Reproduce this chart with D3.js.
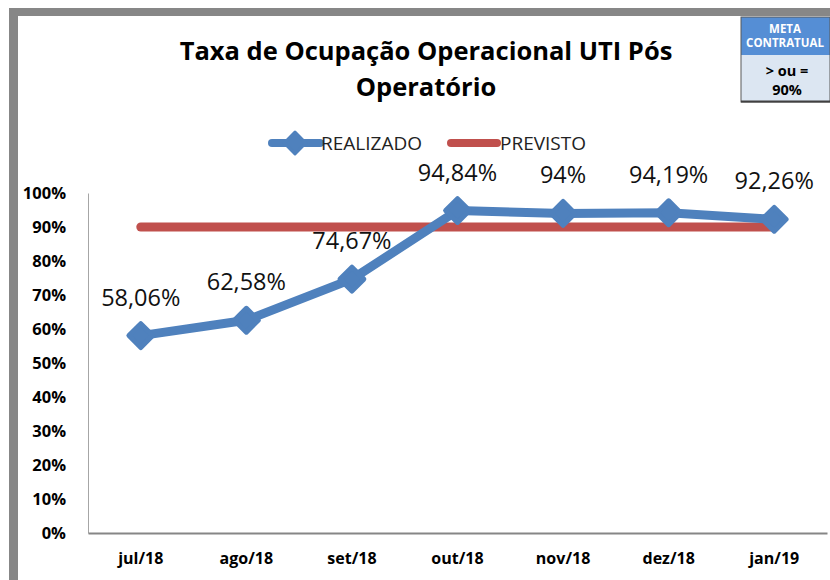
<!DOCTYPE html>
<html>
<head>
<meta charset="utf-8">
<script src="https://cdnjs.cloudflare.com/ajax/libs/d3/7.8.5/d3.min.js"></script>
<style>
  body { margin: 0; background: #fff; }
  svg { display: block; font-family: "Open Sans", "Liberation Sans", sans-serif; }
</style>
</head>
<body>
<div id="chart"></div>
<script>
var months = ['jul/18', 'ago/18', 'set/18', 'out/18', 'nov/18', 'dez/18', 'jan/19'];
var realizado = [58.06, 62.58, 74.67, 94.84, 94, 94.19, 92.26];
var previsto = [90, 90, 90, 90, 90, 90, 90];
var yTicks = [0, 10, 20, 30, 40, 50, 60, 70, 80, 90, 100];
var titleLines = ['Taxa de Ocupação Operacional UTI Pós', 'Operatório'];
var metaHead = ['META', 'CONTRATUAL'];
var metaBody = ['> ou =', '90%'];

var W = 830, H = 580;
var blue = '#4F81BD', red = '#C0504D';

var svg = d3.select('#chart').append('svg')
  .attr('width', W).attr('height', H);

// frame
svg.append('rect').attr('x', 9).attr('y', 8).attr('width', W - 9).attr('height', 8).attr('fill', '#878787');
svg.append('rect').attr('x', 9).attr('y', 8).attr('width', 9).attr('height', H - 8).attr('fill', '#878787');

var x = d3.scaleBand().domain(months).range([88, 827]);
var y = d3.scaleLinear().domain([0, 100]).range([533, 193]);
var cx = function(d, i) { return x(months[i]) + x.bandwidth() / 2; };

// title
svg.append('text')
  .attr('text-anchor', 'middle')
  .attr('font-weight', 'bold')
  .attr('font-size', 25.5)
  .attr('fill', '#000')
  .selectAll('tspan').data(titleLines).enter()
  .append('tspan')
  .attr('x', 426)
  .attr('y', function(d, i) { return 60 + i * 36; })
  .text(function(d) { return d; });

// meta box
var box = svg.append('g');
box.append('rect').attr('x', 741).attr('y', 17).attr('width', 89).attr('height', 38).attr('fill', '#558ED5');
box.append('rect').attr('x', 741).attr('y', 55).attr('width', 89).attr('height', 47).attr('fill', '#DCE6F2');
box.append('rect').attr('x', 741).attr('y', 17).attr('width', 89).attr('height', 85)
  .attr('fill', 'none').attr('stroke', '#595959').attr('stroke-width', 1);
box.append('line').attr('x1', 741).attr('x2', 830).attr('y1', 101.5).attr('y2', 101.5)
  .attr('stroke', '#404040').attr('stroke-width', 2);
box.selectAll('.mh').data(metaHead).enter().append('text')
  .attr('x', 785).attr('y', function(d, i) { return 33 + i * 14; })
  .attr('text-anchor', 'middle').attr('font-size', 11.5).attr('font-weight', 'bold')
  .attr('fill', '#fff').text(function(d) { return d; });
box.selectAll('.mb').data(metaBody).enter().append('text')
  .attr('x', 787).attr('y', function(d, i) { return 76 + i * 19; })
  .attr('text-anchor', 'middle').attr('font-size', 14.5).attr('font-weight', 'bold')
  .attr('fill', '#000').text(function(d) { return d; });

// legend
var lg = svg.append('g');
lg.append('line').attr('x1', 272).attr('x2', 320).attr('y1', 143).attr('y2', 143)
  .attr('stroke', blue).attr('stroke-width', 8).attr('stroke-linecap', 'round');
lg.append('path').attr('d', d3.symbol().type(d3.symbolDiamond2).size(300)())
  .attr('transform', 'translate(295,143)').attr('fill', blue)
  .attr('stroke', blue).attr('stroke-width', 3).attr('stroke-linejoin', 'round');
lg.append('text').attr('x', 321).attr('y', 150).attr('font-size', 19).attr('fill', '#222').text('REALIZADO');
lg.append('line').attr('x1', 451).attr('x2', 497).attr('y1', 143).attr('y2', 143)
  .attr('stroke', red).attr('stroke-width', 8).attr('stroke-linecap', 'round');
lg.append('text').attr('x', 500).attr('y', 150).attr('font-size', 19).attr('fill', '#222').text('PREVISTO');

// axes
var yAxis = svg.append('g').attr('transform', 'translate(88,0)')
  .call(d3.axisLeft(y).tickValues(yTicks).tickSize(0).tickPadding(22)
    .tickFormat(function(d) { return d + '%'; }));
yAxis.select('.domain').attr('stroke', '#A6A6A6').attr('stroke-width', 1);
yAxis.selectAll('text').attr('font-family', '"Open Sans", sans-serif')
  .attr('font-size', 16.5).attr('font-weight', 'bold').attr('fill', '#000');

var xAxis = svg.append('g').attr('transform', 'translate(0,533)')
  .call(d3.axisBottom(x).tickSize(0).tickPadding(20));
xAxis.select('.domain').attr('stroke', '#868686').attr('stroke-width', 2);
xAxis.selectAll('text').attr('font-family', '"Open Sans", sans-serif')
  .attr('font-size', 16).attr('font-weight', 'bold').attr('fill', '#000');

// previsto line
svg.append('path').datum(previsto)
  .attr('d', d3.line().x(cx).y(function(d) { return y(d); }))
  .attr('fill', 'none').attr('stroke', red).attr('stroke-width', 9).attr('stroke-linecap', 'round');

// realizado line + markers
svg.append('path').datum(realizado)
  .attr('d', d3.line().x(cx).y(function(d) { return y(d); }))
  .attr('fill', 'none').attr('stroke', blue).attr('stroke-width', 9)
  .attr('stroke-linejoin', 'round').attr('stroke-linecap', 'round');

svg.selectAll('.pt').data(realizado).enter().append('path')
  .attr('d', d3.symbol().type(d3.symbolDiamond2).size(360)())
  .attr('transform', function(d, i) { return 'translate(' + cx(d, i) + ',' + y(d) + ')'; })
  .attr('fill', blue).attr('stroke', blue).attr('stroke-width', 5).attr('stroke-linejoin', 'round');

// data labels
svg.selectAll('.lbl').data(realizado).enter().append('text')
  .attr('x', cx)
  .attr('y', function(d) { return y(d) - 30; })
  .attr('text-anchor', 'middle')
  .attr('font-size', 23.5)
  .attr('fill', '#111')
  .text(function(d) { return String(d).replace('.', ',') + '%'; });
</script>
</body>
</html>
